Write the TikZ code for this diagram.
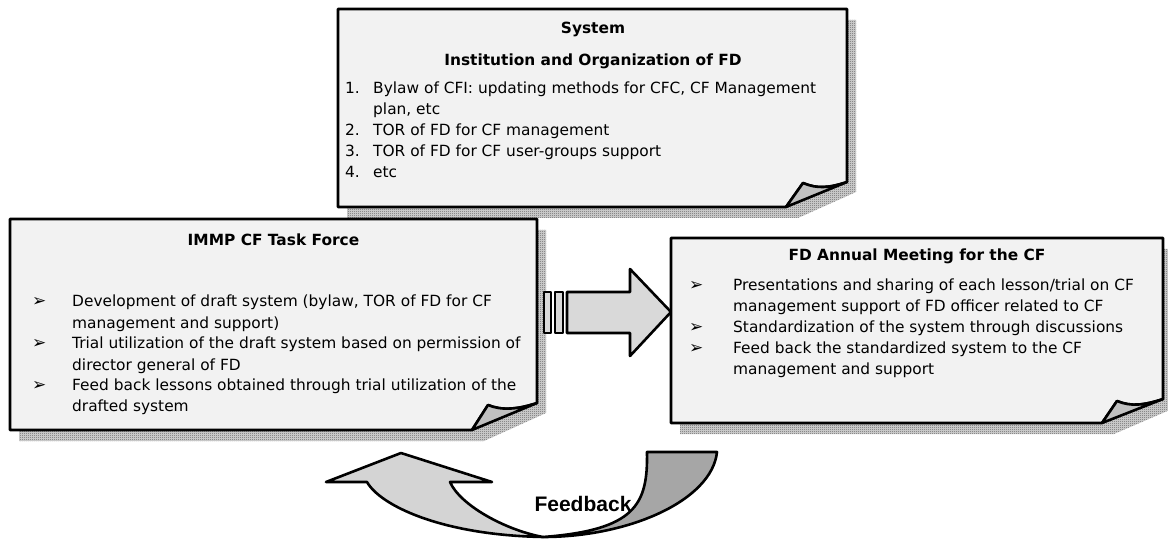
\documentclass[tikz,border=0pt]{standalone}
\usepackage{fontspec}
\usetikzlibrary{patterns.meta}
\setmainfont{DejaVu Sans}
\newfontfamily\symfont{DejaVu Sans}
\newfontfamily\labelfont{Liberation Sans}
\setlength\tabcolsep{0pt}

\definecolor{pagefill}{HTML}{F2F2F2}
\definecolor{curlfill}{HTML}{C0C0C0}
\definecolor{arrowfill}{HTML}{D9D9D9}
\definecolor{backlight}{HTML}{D4D4D4}
\definecolor{backdark}{HTML}{A6A6A6}

% fine checkered stipple used for the drop shadows
\tikzdeclarepattern{
  name=stipple,
  type=uncolored,
  bounding box={(0pt,0pt) and (2pt,2pt)},
  tile size={(2pt,2pt)},
  code={
    \pgfpathrectangle{\pgfpointorigin}{\pgfpoint{1pt}{1pt}}
    \pgfpathrectangle{\pgfpoint{1pt}{1pt}}{\pgfpoint{1pt}{1pt}}
    \pgfusepath{fill}
  }
}

\newcommand{\bul}{{\symfont\fontsize{17}{21}\selectfont ➢}}

% note page with a curled lower right corner:
% #1 x0, #2 y0, #3 x1, #4 y1, #5 curl base x, #6 tip x, #7 tip y, #8 right end y
\newcommand{\notepage}[8]{%
  \fill[white!84!black] (#1+9,#2+11) -- (#3+9,#2+11) -- (#3+9,#8+10)
       -- (#5+12,#4+11) -- (#1+9,#4+11) -- cycle;
  \fill[pattern=stipple, pattern color=black!62] (#1+9,#2+11) -- (#3+9,#2+11)
       -- (#3+9,#8+10) -- (#5+12,#4+11) -- (#1+9,#4+11) -- cycle;
  \draw[outline, fill=pagefill] (#1,#2) -- (#3,#2) -- (#3,#8)
       .. controls (#3-18,#8+6) and (#6+14,#7+6) .. (#6,#7)
       -- (#5,#4) -- (#1,#4) -- cycle;
  \draw[outline, fill=curlfill] (#5,#4) -- (#6,#7)
       .. controls (#6+14,#7+6) and (#3-18,#8+6) .. (#3,#8) -- cycle;
}

\tikzset{
  outline/.style={draw=black, line width=2.6pt, line join=round},
  boxtitle/.style={font=\bfseries\fontsize{15.4}{21}\selectfont, inner sep=0pt, anchor=base},
  boxlist/.style={font=\fontsize{15.4}{21}\selectfont, inner sep=0pt, anchor=base west},
}

\begin{document}
\begin{tikzpicture}[x=1pt,y=-1pt]
\useasboundingbox (0,0) rectangle (1168,540);

% the three note pages
\notepage{338}{9}{847}{207}{786}{803}{183}{182}
\notepage{10}{219}{537}{430}{472}{488}{405}{403}
\notepage{671}{238}{1163}{423}{1102}{1117}{401}{399}

% top page
\node[boxtitle] (systitle) at (593,34) {System};
\node[boxtitle] (sysinst) at (593,66) {Institution and Organization of FD};
\node[boxlist] (syslist) at (345,93.5) {\begin{tabular}[t]{@{}p{28pt}@{}l@{}}
1. & Bylaw of CFI: updating methods for CFC, CF Management\\
   & plan, etc\\
2. & TOR of FD for CF management\\
3. & TOR of FD for CF user-groups support\\
4. & etc
\end{tabular}};

% left page
\node[boxtitle] (tftitle) at (273.5,246) {IMMP CF Task Force};
\node[boxlist] (tflist) at (32,307) {\begin{tabular}[t]{@{}p{40pt}@{}l@{}}
\bul & Development of draft system (bylaw, TOR of FD for CF\\
     & management and support)\\
\bul & Trial utilization of the draft system based on permission of\\
     & director general of FD\\
\bul & Feed back lessons obtained through trial utilization of the\\
     & drafted system
\end{tabular}};

% right page
\node[boxtitle] (amtitle) at (917,261) {FD Annual Meeting for the CF};
\node[boxlist] (amlist) at (689,290.5) {\begin{tabular}[t]{@{}p{44pt}@{}l@{}}
\bul & Presentations and sharing of each lesson/trial on CF\\
     & management support of FD officer related to CF\\
\bul & Standardization of the system through discussions\\
\bul & Feed back the standardized system to the CF\\
     & management and support
\end{tabular}};

% block arrow from the task force to the annual meeting
\draw[outline, fill=arrowfill] (544,292) rectangle (551,333);
\draw[outline, fill=arrowfill] (555,292) rectangle (563,333);
\draw[outline, fill=arrowfill] (567,292) -- (630,292) -- (630,269) -- (671,312)
     -- (630,356) -- (630,333) -- (567,333) -- cycle;

% curved feedback arrow
\draw[outline, fill=backdark] (543,537) .. controls (630,537) and (712,500) .. (717,452)
     -- (647,452) .. controls (648,505) and (635,530) .. (543,537) -- cycle;
\draw[outline, fill=backlight] (367,482) .. controls (380,505) and (440,535) .. (543,537)
     .. controls (505,530) and (460,505) .. (450,482) -- (492,482) -- (401,453)
     -- (326,482) -- cycle;
\node[font=\labelfont\bfseries\fontsize{21}{24}\selectfont, inner sep=0pt] (feedback)
     at (583,504) {Feedback};
\end{tikzpicture}
\end{document}
